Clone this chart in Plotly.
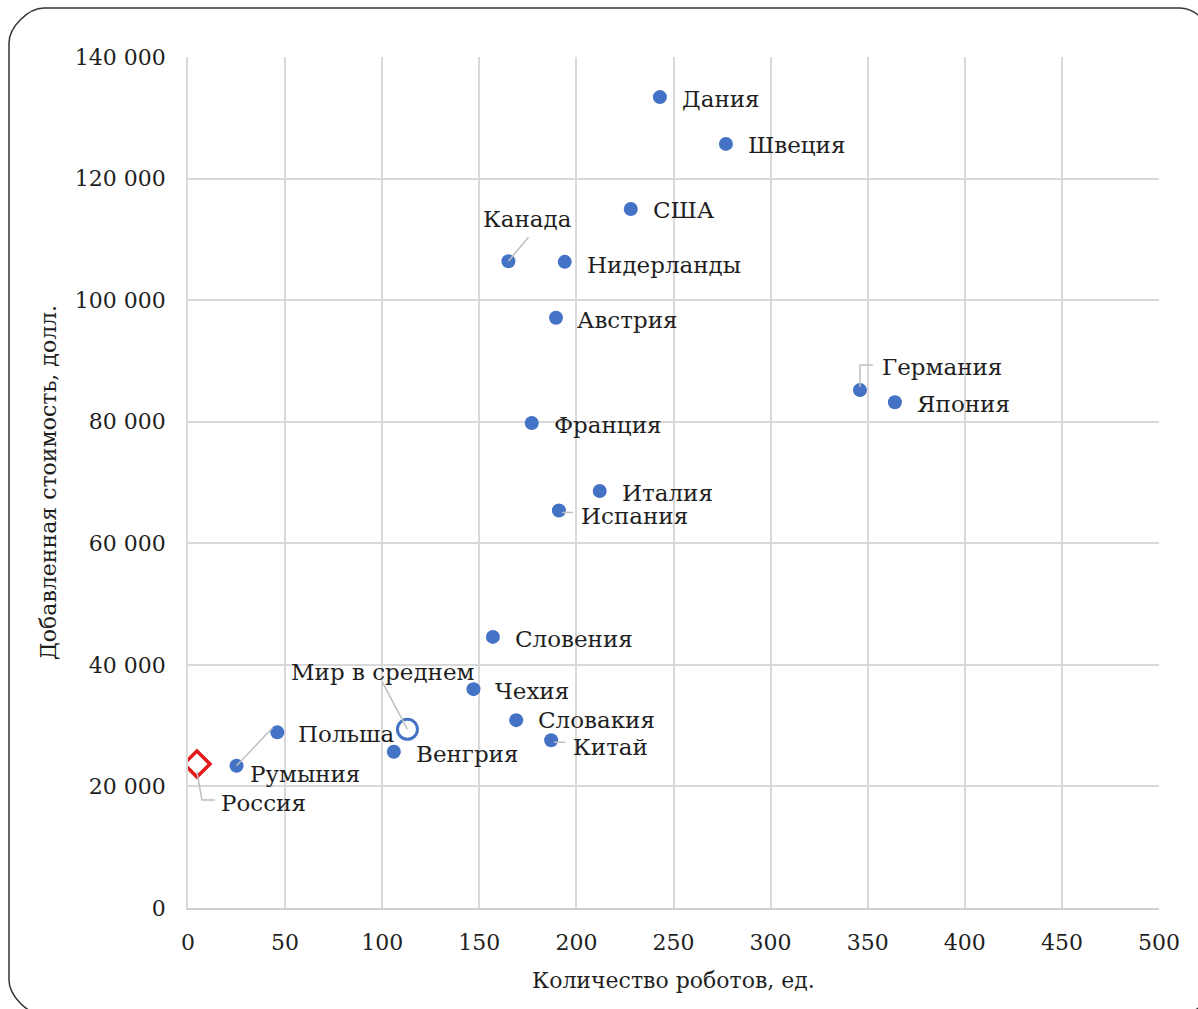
import plotly.graph_objects as go

# Robots per 10k employees vs. value added per worker
countries = ["Дания", "Швеция", "США", "Канада", "Нидерланды", "Австрия",
             "Германия", "Япония", "Франция", "Италия", "Испания", "Словения",
             "Чехия", "Словакия", "Китай", "Польша", "Венгрия", "Румыния"]
robots = [243, 277, 228, 165, 194, 189.5, 346, 364, 177, 212, 191, 157,
          147, 169, 187, 46, 106, 25]
value_added = [133400, 125700, 115000, 106400, 106300, 97100, 85200, 83200,
               79800, 68600, 65400, 44600, 36000, 30900, 27600, 28900, 25700, 23400]

world_label = "Мир в среднем"
world_robots = 113
world_value = 29400

russia_label = "Россия"
russia_robots = 4.6
russia_value = 23700

x_ticks = [0, 50, 100, 150, 200, 250, 300, 350, 400, 450, 500]
y_ticks = [0, 20000, 40000, 60000, 80000, 100000, 120000, 140000]

FONT = "DejaVu Serif"
TEXT = "#1F1F1F"
BLUE = "#4472C4"
RED = "#E3191C"
LEADER = "#BFBFBF"
LABEL_SIZE = 23

W, H = 1198, 1009
L, R, T, B = 188, 39, 57, 101

fig = go.Figure()

fig.add_trace(go.Scatter(
    x=robots, y=value_added, mode="markers",
    marker=dict(size=14, color=BLUE, line=dict(width=0)),
    hoverinfo="skip", showlegend=False))

fig.add_trace(go.Scatter(
    x=[world_robots], y=[world_value], mode="markers",
    marker=dict(size=20, color="rgba(0,0,0,0)", line=dict(width=3, color=BLUE)),
    hoverinfo="skip", showlegend=False))

fig.add_trace(go.Scatter(
    x=[russia_robots], y=[russia_value], mode="markers",
    marker=dict(symbol="diamond-open", size=20, color=RED, line=dict(width=3.5, color=RED)),
    hoverinfo="skip", showlegend=False))

# label offsets (pixels) relative to each point: (xshift, yshift, anchor)
label_pos = {
    "Дания": (20, -2, "left"),
    "Швеция": (20, -1, "left"),
    "США": (20, -1, "left"),
    "Канада": (19, 42, "center"),
    "Нидерланды": (20, -3, "left"),
    "Австрия": (19, -2, "left"),
    "Германия": (20, 23, "left"),
    "Япония": (20, -2, "left"),
    "Франция": (20, -2, "left"),
    "Италия": (20, -2, "left"),
    "Испания": (20, -6, "left"),
    "Словения": (20, -2, "left"),
    "Чехия": (20, -2, "left"),
    "Словакия": (20, 0, "left"),
    "Китай": (20, -7, "left"),
    "Польша": (19, -2, "left"),
    "Венгрия": (20, -2, "left"),
    "Румыния": (11, -8, "left"),
}

annotations = []
for name, xv, yv in zip(countries, robots, value_added):
    dx, dy, anc = label_pos[name]
    annotations.append(dict(x=xv, y=yv, text=name, showarrow=False,
                            xanchor=anc, yanchor="middle", xshift=dx, yshift=dy,
                            font=dict(family=FONT, size=LABEL_SIZE, color=TEXT)))
annotations.append(dict(x=world_robots, y=world_value, text=world_label, showarrow=False,
                        xanchor="center", yanchor="middle", xshift=-25, yshift=57,
                        font=dict(family=FONT, size=LABEL_SIZE, color=TEXT)))
annotations.append(dict(x=russia_robots, y=russia_value, text=russia_label, showarrow=False,
                        xanchor="left", yanchor="middle", xshift=22, yshift=-39,
                        font=dict(family=FONT, size=LABEL_SIZE, color=TEXT)))

# leader lines, anchored at the point and drawn in pixel offsets
def leader(xv, yv, path):
    return dict(type="path", xref="x", yref="y", xsizemode="pixel", ysizemode="pixel",
                xanchor=xv, yanchor=yv, path=path, layer="above",
                line=dict(color=LEADER, width=1.5))

idx = {n: i for i, n in enumerate(countries)}
shapes = [
    leader(robots[idx["Канада"]], value_added[idx["Канада"]], "M0,0 L20,24"),
    leader(robots[idx["Германия"]], value_added[idx["Германия"]], "M0,3 L0,25 L13,25"),
    leader(robots[idx["Испания"]], value_added[idx["Испания"]], "M3,-2 L14,-2"),
    leader(robots[idx["Китай"]], value_added[idx["Китай"]], "M3,-2 L14,-2"),
    leader(robots[idx["Румыния"]], value_added[idx["Румыния"]], "M0,0 L36,38"),
    leader(world_robots, world_value, "M0,0 L-25,47"),
    leader(russia_robots, russia_value, "M0,-8 L5,-36 L18,-36"),
]

# rounded outer frame (paper coordinates derived from pixel geometry)
pw, ph = W - L - R, H - T - B
def px(v):
    return (v - L) / pw
def py(v):
    return (H - B - v) / ph
x0f, x1f, y0f, y1f, rad = 9, 1215, 8, 1015, 35
k = 0.45 * rad
frame = (
    f"M{px(x0f)},{py(y0f + rad)} "
    f"C{px(x0f)},{py(y0f + rad - k)} {px(x0f + rad - k)},{py(y0f)} {px(x0f + rad)},{py(y0f)} "
    f"L{px(x1f - rad)},{py(y0f)} "
    f"C{px(x1f - rad + k)},{py(y0f)} {px(x1f)},{py(y0f + rad - k)} {px(x1f)},{py(y0f + rad)} "
    f"L{px(x1f)},{py(y1f - rad)} "
    f"C{px(x1f)},{py(y1f - rad + k)} {px(x1f - rad + k)},{py(y1f)} {px(x1f - rad)},{py(y1f)} "
    f"L{px(x0f + rad)},{py(y1f)} "
    f"C{px(x0f + rad - k)},{py(y1f)} {px(x0f)},{py(y1f - rad + k)} {px(x0f)},{py(y1f - rad)} Z"
)
shapes.append(dict(type="path", xref="paper", yref="paper", path=frame,
                   line=dict(color="#333333", width=1.5), layer="below"))

fig.update_layout(
    width=W, height=H,
    margin=dict(l=L, r=R, t=T, b=B, pad=0),
    paper_bgcolor="white", plot_bgcolor="white",
    separators=", ",
    font=dict(family=FONT, size=22, color=TEXT),
    annotations=annotations, shapes=shapes, showlegend=False,
    xaxis=dict(range=[0, 500], tickvals=x_ticks, showgrid=True,
               gridcolor="#D9D9D9", gridwidth=1.5, zeroline=False,
               showline=True, linecolor="#CFCFCF", linewidth=1.5, mirror=False,
               ticks="", ticklabelstandoff=14,
               tickfont=dict(family=FONT, size=22, color=TEXT),
               title=dict(text="Количество роботов, ед.", standoff=18,
                          font=dict(family=FONT, size=22, color=TEXT))),
    yaxis=dict(range=[0, 140000], tickvals=y_ticks, tickformat=",d", showgrid=True,
               gridcolor="#D9D9D9", gridwidth=1.5, zeroline=False,
               showline=True, linecolor="#D9D9D9", linewidth=1.5,
               ticks="", ticklabelstandoff=16,
               tickfont=dict(family=FONT, size=22, color=TEXT),
               title=dict(text="Добавленная стоимость, долл.", standoff=12,
                          font=dict(family=FONT, size=22, color=TEXT))),
)

fig.write_html("out.html")
